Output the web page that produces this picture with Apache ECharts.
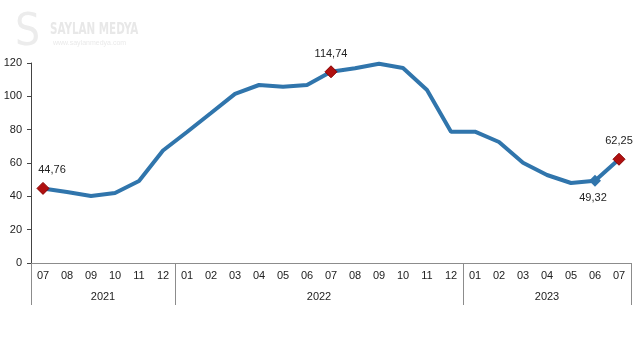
<!DOCTYPE html>
<html>
<head>
<meta charset="utf-8">
<script src="https://cdn.jsdelivr.net/npm/echarts@6/dist/echarts.min.js"></script>
<style>
  html, body { margin: 0; padding: 0; background: #fff; }
  #chart { width: 640px; height: 360px; }
</style>
</head>
<body>
<div id="chart"></div>
<script>
// aylar (07/2021 - 07/2023)
const months = ['07', '08', '09', '10', '11', '12',
  '01', '02', '03', '04', '05', '06', '07', '08', '09', '10', '11', '12',
  '01', '02', '03', '04', '05', '06', '07']
const years = ['2021', '2022', '2023']
const yearStart = [0, 6, 18, 25]   // yil sinirlari (kategori indeksi)
const values = [44.76, 42.6, 40.2, 42.0, 49.2, 67.5,
  78.6, 90.0, 101.5, 106.8, 105.8, 106.8, 114.74, 116.8, 119.6, 117.0, 103.8, 78.8,
  78.8, 72.6, 60.2, 52.8, 48.0, 49.32, 62.25]
// isaretli noktalar
const redPoints = [0, 12, 24]
const bluePoints = [23]

const lineColor = '#3075ac'
const font = 'Liberation Sans'

const seriesData = values.map(function (v, i) {
  if (redPoints.indexOf(i) >= 0) {
    return {
      value: v,
      symbol: 'diamond',
      symbolSize: 12,
      itemStyle: { color: '#b01010', borderColor: '#8a0000', borderWidth: 1 },
      label: { show: true, position: 'top', distance: 6, offset: i === 0 ? [9, 0] : [0, 0] }
    }
  }
  if (bluePoints.indexOf(i) >= 0) {
    return {
      value: v,
      symbol: 'diamond',
      symbolSize: 12,
      itemStyle: { color: lineColor },
      label: { show: true, position: 'bottom', distance: 6, offset: [-2, 0] }
    }
  }
  return { value: v, symbol: 'none' }
})

const chart = echarts.init(document.getElementById('chart'))
chart.setOption({
  animation: false,
  textStyle: { fontFamily: font },
  graphic: [
    {
      type: 'text', left: 15, top: 12,
      style: { text: 'S', font: '44px "DejaVu Sans Condensed"', fill: '#ececec' }
    },
    {
      type: 'text', x: 50, y: 22, scaleX: 0.72,
      style: { text: 'SAYLAN MEDYA', font: 'bold 16px "DejaVu Sans Condensed"', fill: '#e8e8e8' }
    },
    {
      type: 'text', left: 53, top: 40,
      style: { text: 'www.saylanmedya.com', font: '7px "Liberation Sans"', fill: '#eaeaea' }
    }
  ],
  grid: { left: 31, right: 9, top: 63, bottom: 97 },
  xAxis: [
    {
      type: 'category',
      data: months,
      boundaryGap: true,
      axisLine: { lineStyle: { color: '#8c8c8c', width: 1 } },
      axisTick: { interval: 0, length: 24, lineStyle: { color: '#9a9a9a' } },
      axisLabel: { interval: 0, margin: 7, fontSize: 11, color: '#222', fontFamily: font }
    },
    {
      type: 'value',
      position: 'bottom',
      min: 0,
      max: 25,
      axisLine: { show: false },
      splitLine: { show: false },
      axisTick: { show: true, length: 42, customValues: yearStart, lineStyle: { color: '#8c8c8c' } },
      axisLabel: {
        margin: 28,
        fontSize: 11,
        color: '#222',
        fontFamily: font,
        customValues: [3, 12, 21.5],
        formatter: function (v) {
          if (v < 6) return years[0]
          if (v < 18) return years[1]
          return years[2]
        }
      }
    }
  ],
  yAxis: {
    type: 'value',
    min: 0,
    max: 120,
    interval: 20,
    axisLine: { show: true, lineStyle: { color: '#444', width: 1 } },
    axisTick: { show: true, length: 4, lineStyle: { color: '#444' } },
    splitLine: { show: false },
    axisLabel: { margin: 9, fontSize: 11, color: '#222', fontFamily: font }
  },
  series: [
    {
      type: 'line',
      xAxisIndex: 0,
      data: seriesData,
      symbol: 'none',
      showSymbol: true,
      lineStyle: { color: lineColor, width: 4 },
      itemStyle: { color: lineColor },
      label: {
        fontSize: 11,
        color: '#222',
        fontFamily: font,
        formatter: function (p) { return String(p.value).replace('.', ',') }
      },
      z: 3
    }
  ]
})
</script>
</body>
</html>
